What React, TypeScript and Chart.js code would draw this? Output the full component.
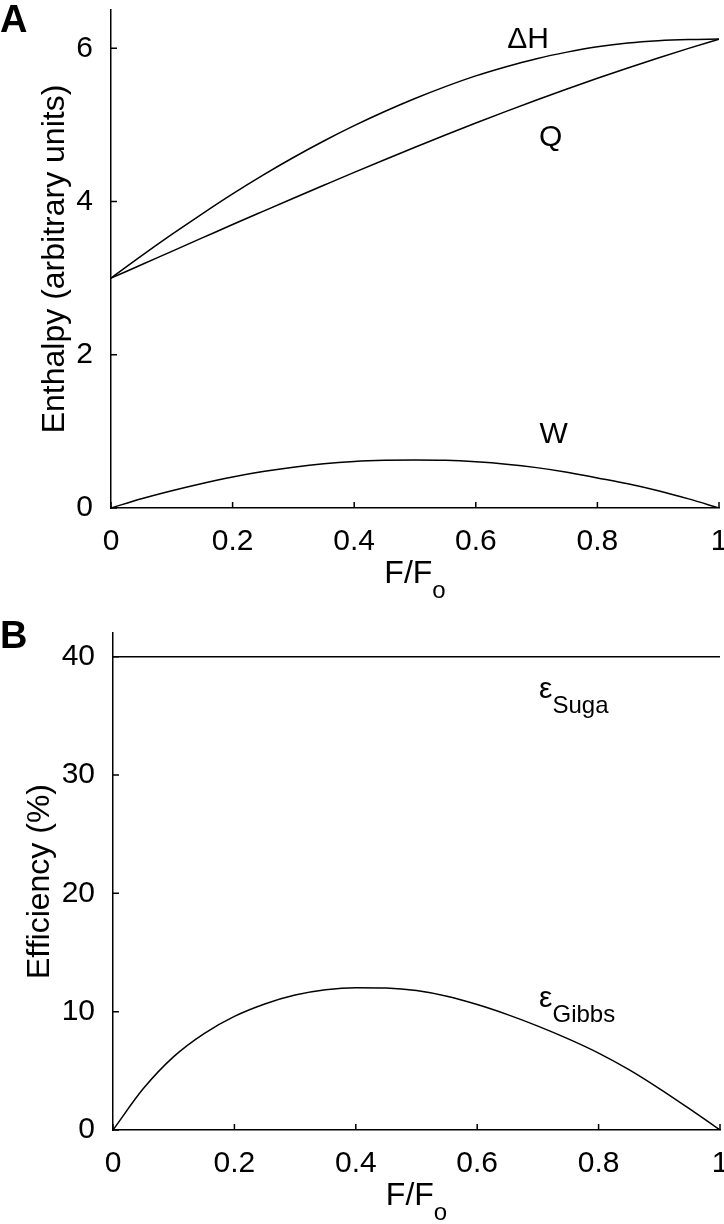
import React, { useEffect, useRef } from 'react';
import { Chart, registerables } from 'chart.js';

Chart.register(...registerables);

// ---------- data ----------
const fRatio = [0, 0.05, 0.1, 0.15, 0.2, 0.25, 0.3, 0.35, 0.4, 0.45, 0.5, 0.55, 0.6, 0.65, 0.7, 0.75, 0.8, 0.85, 0.9, 0.95, 1];
const deltaH = [3.0, 3.29, 3.57, 3.84, 4.10, 4.345, 4.575, 4.79, 4.99, 5.175, 5.345, 5.50, 5.64, 5.76, 5.865, 5.95, 6.02, 6.07, 6.10, 6.115, 6.12];
const heatQ = [3.0, 3.175, 3.35, 3.525, 3.70, 3.872, 4.043, 4.212, 4.38, 4.545, 4.708, 4.868, 5.025, 5.177, 5.325, 5.469, 5.609, 5.744, 5.874, 5.999, 6.12];
const workW = [0, 0.12, 0.225, 0.32, 0.405, 0.475, 0.533, 0.578, 0.607, 0.622, 0.627, 0.622, 0.603, 0.572, 0.527, 0.467, 0.393, 0.317, 0.226, 0.119, 0];
const effGibbs = [0, 3.5, 6.2, 8.15, 9.6, 10.65, 11.4, 11.85, 12.03, 12.0, 11.78, 11.3, 10.6, 9.75, 8.78, 7.7, 6.5, 5.1, 3.5, 1.78, 0];
const effSuga = [40, 40, 40, 40, 40, 40, 40, 40, 40, 40, 40, 40, 40, 40, 40, 40, 40, 40, 40, 40, 40];

const xTickValues = [0, 0.2, 0.4, 0.6, 0.8, 1];
const xTickLabels = ['0', '0.2', '0.4', '0.6', '0.8', '1'];
const enthalpyTicks = [0, 2, 4, 6];
const enthalpyTickLabels = ['0', '2', '4', '6'];
const efficiencyTicks = [0, 10, 20, 30, 40];
const efficiencyTickLabels = ['0', '10', '20', '30', '40'];

const FONT = "'Liberation Sans', Arial, Helvetica, sans-serif";

type Note = { main: string; sub?: string; x: number; y: number; align: 'left' | 'center' };

type PanelCfg = {
  letter: string;
  letterBaseline: number;
  yTitle: string;
  yTitleX: number;
  yMax: number;
  yTicks: number[];
  yTickLabels: string[];
  yWidth: number;
  xHeight: number;
  padTop: number;
  padRight: number;
  series: number[][];
  notes: Note[];
};

function drawSub(ctx: CanvasRenderingContext2D, main: string, sub: string | undefined, x: number, y: number, mainSize: number, subSize: number, drop: number, align: 'left' | 'center') {
  ctx.font = `${mainSize}px ${FONT}`;
  const wMain = ctx.measureText(main).width;
  let wSub = 0;
  if (sub) {
    ctx.font = `${subSize}px ${FONT}`;
    wSub = ctx.measureText(sub).width;
  }
  const total = wMain + wSub;
  const left = align === 'center' ? x - total / 2 : x;
  ctx.textAlign = 'left';
  ctx.textBaseline = 'alphabetic';
  ctx.font = `${mainSize}px ${FONT}`;
  ctx.fillText(main, left, y);
  if (sub) {
    ctx.font = `${subSize}px ${FONT}`;
    ctx.fillText(sub, left + wMain, y + drop);
  }
}

function makePanel(canvas: HTMLCanvasElement, cfg: PanelCfg) {
  const annot = {
    id: 'annot',
    afterDraw(chart: any) {
      const ctx: CanvasRenderingContext2D = chart.ctx;
      const { left, right, top, bottom } = chart.chartArea;
      const xs = chart.scales.x;
      const ys = chart.scales.y;
      ctx.save();
      ctx.strokeStyle = '#000';
      ctx.fillStyle = '#000';
      ctx.lineWidth = 1.5;
      // inward tick marks
      ctx.beginPath();
      cfg.yTicks.forEach((v) => {
        const py = ys.getPixelForValue(v);
        ctx.moveTo(left, py);
        ctx.lineTo(left + 6, py);
      });
      xTickValues.forEach((v) => {
        const px = xs.getPixelForValue(v);
        ctx.moveTo(px, bottom);
        ctx.lineTo(px, bottom - 6);
      });
      ctx.stroke();

      // curve labels
      cfg.notes.forEach((n) => {
        const px = xs.getPixelForValue(n.x);
        const py = ys.getPixelForValue(n.y);
        drawSub(ctx, n.main, n.sub, px, py, 30, 24, 15, n.align);
      });

      // x title F/Fo
      drawSub(ctx, 'F/F', 'o', (left + right) / 2, bottom + 75, 32, 24, 15, 'center');

      // y title
      ctx.save();
      ctx.translate(cfg.yTitleX, (top + bottom) / 2);
      ctx.rotate(-Math.PI / 2);
      ctx.font = `32px ${FONT}`;
      ctx.textAlign = 'center';
      ctx.textBaseline = 'alphabetic';
      ctx.fillText(cfg.yTitle, 0, 0);
      ctx.restore();

      // panel letter
      ctx.font = `bold 38px ${FONT}`;
      ctx.textAlign = 'left';
      ctx.textBaseline = 'alphabetic';
      ctx.fillText(cfg.letter, 0, cfg.letterBaseline);
      ctx.restore();
    },
  };

  const tickFont = { family: FONT, size: 30 };

  return new Chart(canvas, {
    type: 'line',
    data: {
      datasets: cfg.series.map((s) => ({
        data: fRatio.map((x, i) => ({ x, y: s[i] })),
        borderColor: '#000',
        borderWidth: 1.5,
        pointRadius: 0,
        fill: false,
        cubicInterpolationMode: 'monotone' as const,
      })),
    },
    options: {
      animation: false,
      responsive: false,
      maintainAspectRatio: false,
      events: [],
      layout: { padding: { top: cfg.padTop, right: cfg.padRight, left: 0, bottom: 0 } },
      plugins: { legend: { display: false }, tooltip: { enabled: false }, title: { display: false } },
      scales: {
        x: {
          type: 'linear',
          min: 0,
          max: 1,
          afterBuildTicks: (s: any) => {
            s.ticks = xTickValues.map((v) => ({ value: v }));
          },
          afterFit: (s: any) => {
            s.height = cfg.xHeight;
            s.paddingLeft = 0;
            s.paddingRight = 0;
          },
          ticks: {
            callback: (_v: any, i: number) => xTickLabels[i],
            font: tickFont,
            color: '#000',
            padding: 8,
            maxRotation: 0,
            minRotation: 0,
            autoSkip: false,
          },
          grid: { display: false },
          border: { display: true, color: '#000', width: 1.5 },
        },
        y: {
          type: 'linear',
          min: 0,
          max: cfg.yMax,
          afterBuildTicks: (s: any) => {
            s.ticks = cfg.yTicks.map((v) => ({ value: v }));
          },
          afterFit: (s: any) => {
            s.width = cfg.yWidth;
            s.paddingTop = 0;
            s.paddingBottom = 0;
          },
          ticks: {
            callback: (_v: any, i: number) => cfg.yTickLabels[i],
            font: tickFont,
            color: '#000',
            padding: 10,
            autoSkip: false,
          },
          grid: { display: false },
          border: { display: true, color: '#000', width: 1.5 },
        },
      },
    },
    plugins: [annot],
  } as any);
}

export default function App() {
  const refA = useRef<HTMLCanvasElement>(null);
  const refB = useRef<HTMLCanvasElement>(null);

  useEffect(() => {
    const a = makePanel(refA.current!, {
      letter: 'A',
      letterBaseline: 32,
      yTitle: 'Enthalpy (arbitrary units)',
      yTitleX: 64,
      yMax: 6.5,
      yTicks: enthalpyTicks,
      yTickLabels: enthalpyTickLabels,
      yWidth: 111,
      xHeight: 104,
      padTop: 10,
      padRight: 5,
      series: [deltaH, heatQ, workW],
      notes: [
        { main: '\u0394H', x: 0.686, y: 6.01, align: 'center' },
        { main: 'Q', x: 0.723, y: 4.73, align: 'center' },
        { main: 'W', x: 0.728, y: 0.85, align: 'center' },
      ],
    });
    const b = makePanel(refB.current!, {
      letter: 'B',
      letterBaseline: 36,
      yTitle: 'Efficiency (%)',
      yTitleX: 49,
      yMax: 42,
      yTicks: efficiencyTicks,
      yTickLabels: efficiencyTickLabels,
      yWidth: 113,
      xHeight: 94,
      padTop: 21,
      padRight: 4,
      series: [effSuga, effGibbs],
      notes: [
        { main: '\u03B5', sub: 'Suga', x: 0.702, y: 36.5, align: 'left' },
        { main: '\u03B5', sub: 'Gibbs', x: 0.702, y: 10.4, align: 'left' },
      ],
    });
    return () => {
      a.destroy();
      b.destroy();
    };
  }, []);

  return (
    <div style={{ position: 'absolute', left: 0, top: 0, width: 724, height: 1224, background: '#fff', overflow: 'hidden' }}>
      <canvas ref={refA} width={724} height={612} style={{ position: 'absolute', left: 0, top: 0, width: 724, height: 612 }} />
      <canvas ref={refB} width={724} height={612} style={{ position: 'absolute', left: 0, top: 612, width: 724, height: 612 }} />
    </div>
  );
}
